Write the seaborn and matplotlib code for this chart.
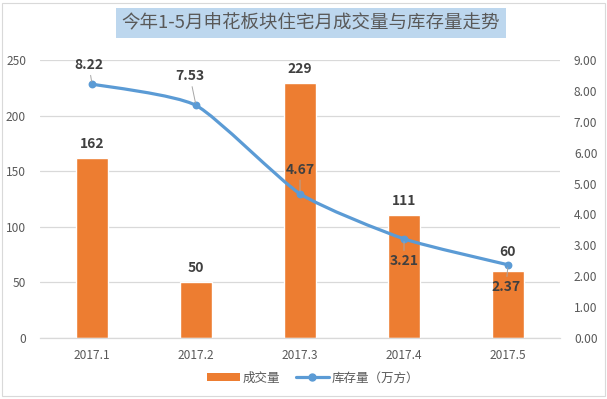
import numpy as np
import pandas as pd
import matplotlib
matplotlib.use("Agg")
import matplotlib.pyplot as plt
from matplotlib.path import Path
from matplotlib.patches import PathPatch, Patch, Rectangle
from matplotlib.lines import Line2D
import seaborn as sns

# ---- data ----
months = ["2017.1", "2017.2", "2017.3", "2017.4", "2017.5"]
deals = [162, 50, 229, 111, 60]                 # 成交量
stock = [8.22, 7.53, 4.67, 3.21, 2.37]          # 库存量（万方）
title = "今年1-5月申花板块住宅月成交量与库存量走势"
bar_name = "成交量"
line_name = "库存量（万方）"
left_ticks = [0, 50, 100, 150, 200, 250]
right_ticks = [0, 1, 2, 3, 4, 5, 6, 7, 8, 9]

sns.set_theme(style="white")
plt.rcParams["font.family"] = ["Noto Sans CJK SC", "DejaVu Sans"]

ORANGE = "#ED7D31"
BLUE = "#5B9BD5"
GRAY = "#595959"
DARK = "#404040"
GRID = "#D9D9D9"

df = pd.DataFrame({"month": months, "deals": deals, "stock": stock})

fig = plt.figure(figsize=(6.07, 3.99), dpi=100)
ax = fig.add_axes([40 / 607, 1 - 338 / 399, 520 / 607, 278 / 399])

sns.barplot(data=df, x="month", y="deals", color=ORANGE, width=0.31,
            saturation=1, ax=ax, zorder=2)
ax.set_xlim(-0.5, 4.5)
ax.set_ylim(0, 250)
ax.set_yticks(left_ticks)
ax.set_xlabel("")
ax.set_ylabel("")
ax.grid(axis="y", color=GRID, linewidth=0.9, zorder=0)
ax.grid(axis="x", visible=False)
for s in ["top", "left", "right"]:
    ax.spines[s].set_visible(False)
ax.spines["bottom"].set_color(GRID)
ax.spines["bottom"].set_linewidth(0.9)
ax.tick_params(axis="both", length=0, colors=GRAY, labelsize=8.6)
ax.tick_params(axis="x", pad=8)
ax.tick_params(axis="y", pad=10)
ax.set_axisbelow(True)

# bar labels
bar_off = [14, 14, 14, 14, 19]
for i, v in enumerate(deals):
    ax.annotate(f"{v}", (i, v), xytext=(0, bar_off[i]), textcoords="offset pixels",
                ha="center", va="center", fontsize=10, fontweight="bold", color=DARK)

# line on secondary axis
ax2 = ax.twinx()
ax2.set_ylim(0, 9)
ax2.set_yticks(right_ticks)
ax2.set_yticklabels([f"{t:.2f}" for t in right_ticks])
ax2.tick_params(axis="y", length=0, colors=GRAY, labelsize=8.6, pad=10)
for s in ["top", "left", "right", "bottom"]:
    ax2.spines[s].set_visible(False)
ax2.grid(False)

# gently smoothed path through the data points
xs = np.arange(len(stock), dtype=float)
ys = np.array(stock, dtype=float)
pts = np.column_stack([xs, ys])
verts = [tuple(pts[0])]
codes = [Path.MOVETO]
n = len(pts)
k = 1.0 / 10.0
for i in range(n - 1):
    p0 = pts[i - 1] if i > 0 else pts[i]
    p1 = pts[i]
    p2 = pts[i + 1]
    p3 = pts[i + 2] if i + 2 < n else pts[i + 1]
    c1 = p1 + (p2 - p0) * k
    c2 = p2 - (p3 - p1) * k
    verts += [tuple(c1), tuple(c2), tuple(p2)]
    codes += [Path.CURVE4, Path.CURVE4, Path.CURVE4]
ax2.add_patch(PathPatch(Path(verts, codes), facecolor="none", edgecolor=BLUE,
                        linewidth=2.3, capstyle="round", joinstyle="round", zorder=3))
sns.scatterplot(x=xs, y=ys, color=BLUE, s=32, edgecolor=BLUE, linewidth=0, ax=ax2, zorder=4)
ax2.set_xlim(-0.5, 4.5)

# line labels with leader lines
line_off = [(-3, 19), (-6, 29), (0, 24), (0, -22), (-2, -22)]
for i, v in enumerate(stock):
    dx, dy = line_off[i]
    ax2.annotate(f"{v:.2f}", (i, v), xytext=(dx, dy), textcoords="offset pixels",
                 ha="center", va="center", fontsize=10, fontweight="bold", color=DARK,
                 arrowprops=dict(arrowstyle="-", color="#A6A6A6", linewidth=0.7,
                                 shrinkA=0, shrinkB=2), zorder=5)

# title with light blue box
fig.text(311 / 607, 1 - 23 / 399, title, ha="center", va="center",
         fontsize=13.3, color=GRAY,
         bbox=dict(boxstyle="square,pad=0.3", facecolor="#BDD7EE", edgecolor="none"))

# legend
handles = [Patch(facecolor=ORANGE, edgecolor="none", label=bar_name),
           Line2D([0], [0], color=BLUE, linewidth=2.3, marker="o", markersize=5,
                  label=line_name)]
fig.legend(handles=handles, loc="center", bbox_to_anchor=(313 / 607, 1 - 378 / 399),
           ncol=2, frameon=False, fontsize=9, labelcolor=GRAY,
           handlelength=2.6, handleheight=0.6, columnspacing=1.3, handletextpad=0.2)

# chart border
fig.patches.append(Rectangle((2 / 607, 3 / 399), 603 / 607, 393 / 399,
                             transform=fig.transFigure, facecolor="none",
                             edgecolor=GRID, linewidth=0.8))

fig.savefig("out.png", dpi=100)
